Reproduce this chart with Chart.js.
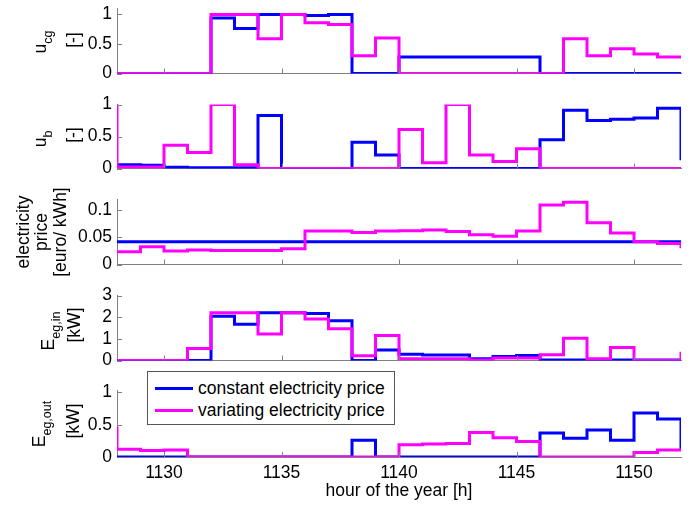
<!DOCTYPE html>
<html>
<head>
<meta charset="utf-8">
<title>Stairs comparison</title>
<script src="https://cdn.jsdelivr.net/npm/chart.js@4.4.1/dist/chart.umd.min.js"></script>
<style>
  body { margin: 0; background: #fff; }
  #wrap { position: relative; width: 691px; height: 505px; overflow: hidden;
          font-family: "Liberation Sans", Arial, sans-serif; color: #000; }
  #plots canvas { position: absolute; left: 0; }
  .ylab { position: absolute; white-space: nowrap; font-size: 17.5px; line-height: 17px;
          transform: translate(-50%, -50%) rotate(-90deg); }
  .ylab sub { font-size: 12.5px; vertical-align: baseline; position: relative; top: 6px; }
  #legend { position: absolute; left: 147px; top: 371px; width: 246px; height: 52px;
            border: 1px solid #555; background: #fff; font-size: 17.5px; }
  #legend .row { position: absolute; left: 7px; height: 20px; line-height: 20px; white-space: nowrap; }
  #legend .swatch { display: inline-block; width: 38px; height: 3px; vertical-align: middle;
                    margin-right: 5px; position: relative; top: -1px; }
</style>
</head>
<body>
<div id="wrap">
  <div id="plots"></div>

  <div class="ylab" style="left:41px; top:42px">u<sub>cg</sub></div>
  <div class="ylab" style="left:73px; top:40px">[-]</div>

  <div class="ylab" style="left:41px; top:139px">u<sub>b</sub></div>
  <div class="ylab" style="left:73px; top:135px">[-]</div>

  <div class="ylab" style="left:23px; top:232px">electricity</div>
  <div class="ylab" style="left:41px; top:232px">price</div>
  <div class="ylab" style="left:60px; top:232px">[euro/ kWh]</div>

  <div class="ylab" style="left:49px; top:331px">E<sub>eg,in</sub></div>
  <div class="ylab" style="left:74px; top:325px">[kW]</div>

  <div class="ylab" style="left:40px; top:424px">E<sub>eg,out</sub></div>
  <div class="ylab" style="left:73px; top:421px">[kW]</div>

  <div id="legend"></div>
</div>

<script>
// hour of the year; the first entry only carries the level coming in from the left edge
const hours = [1127, 1128, 1129, 1130, 1131, 1132, 1133, 1134, 1135, 1136, 1137, 1138, 1139,
               1140, 1141, 1142, 1143, 1144, 1145, 1146, 1147, 1148, 1149, 1150, 1151, 1152];
const xTicks = [1130, 1135, 1140, 1145, 1150];

const seriesNames = ['constant electricity price', 'variating electricity price'];
const seriesColors = ['#0000ff', '#ff00ff'];

// u_cg [-]
const ucgConst = [0, 0, 0, 0, 0, 0.94, 0.76, 1, 1, 0.98, 1, 0, 0,
                  0.28, 0.28, 0.28, 0.28, 0.28, 0.28, 0, 0, 0, 0, 0, 0, 0];
const ucgVar   = [0, 0, 0, 0, 0, 1, 1, 0.59, 1, 0.86, 0.83, 0.3, 0.6,
                  0, 0, 0, 0, 0, 0, 0, 0.59, 0.3, 0.42, 0.33, 0.28, 0.28];
const ucgTicks = [0, 0.5, 1];

// u_b [-]
const ubConst = [0.06, 0.06, 0.05, 0.02, 0.01, 0.01, 0.01, 0.83, 0, 0, 0, 0.41, 0.21,
                 0, 0, 0, 0, 0, 0, 0.45, 0.91, 0.75, 0.77, 0.79, 0.94, 0.13];
const ubVar   = [1, 0.025, 0.025, 0.365, 0.25, 1, 0.06, 0, 0, 0, 0, 0, 0,
                 0.61, 0.09, 1, 0.21, 0.11, 0.31, 0, 0, 0, 0, 0, 0, 0];
const ubTicks = [0, 0.5, 1];

// electricity price [euro/kWh]
const priceConst = [0.042, 0.042, 0.042, 0.042, 0.042, 0.042, 0.042, 0.042, 0.042, 0.042, 0.042, 0.042, 0.042,
                    0.042, 0.042, 0.042, 0.042, 0.042, 0.042, 0.042, 0.042, 0.042, 0.042, 0.042, 0.042, 0.042];
const priceVar   = [0.0235, 0.0235, 0.033, 0.025, 0.027, 0.026, 0.026, 0.026, 0.029, 0.062, 0.062, 0.059, 0.062,
                    0.0625, 0.0635, 0.061, 0.055, 0.052, 0.062, 0.11, 0.115, 0.077, 0.058, 0.042, 0.039, 0.03];
const priceTicks = [0, 0.05, 0.1];

// E_eg,in [kW]
const einConst = [0, 0, 0, 0, 0, 2.04, 1.67, 2.2, 2.2, 2.17, 1.84, 0, 0.48,
                  0.29, 0.25, 0.25, 0.08, 0.18, 0.23, 0.02, 0.02, 0.02, 0.02, 0.02, 0.02, 0.02];
const einVar   = [0, 0, 0, 0, 0.55, 2.2, 2.2, 1.22, 2.2, 1.91, 1.46, 0.22, 1.15,
                  0.08, 0.08, 0.08, 0.02, 0.12, 0.12, 0.27, 1.03, 0.08, 0.6, 0, 0, 0.4];
const einTicks = [0, 1, 2, 3];

// E_eg,out [kW]
const eoutConst = [0, 0, 0, 0, 0, 0, 0, 0, 0, 0, 0, 0.26, 0,
                   0, 0, 0, 0, 0, 0, 0.37, 0.29, 0.42, 0.26, 0.68, 0.59, 0.1];
const eoutVar   = [0.45, 0.12, 0.1, 0.11, 0, 0, 0, 0, 0, 0, 0, 0, 0,
                   0.19, 0.2, 0.21, 0.38, 0.3, 0.24, 0, 0, 0, 0, 0.07, 0.11, 0.11];
const eoutTicks = [0, 0.5, 1];

const AXIS = '#808080';
const W = 691, H = 505;
const PLOT_LEFT = 117, PLOT_RIGHT = 681;

const panels = [
  { top: 7,   bottom: 75,  max: 1.1,  ticks: ucgTicks,   series: [ucgConst, ucgVar] },
  { top: 103, bottom: 170, max: 1,    ticks: ubTicks,    series: [ubConst, ubVar] },
  { top: 198, bottom: 266, max: 0.12, ticks: priceTicks, series: [priceConst, priceVar] },
  { top: 294, bottom: 362, max: 3,    ticks: einTicks,   series: [einConst, einVar] },
  { top: 389, bottom: 457, max: 1.03, ticks: eoutTicks,  series: [eoutConst, eoutVar] }
];

Chart.defaults.font.family = '"Liberation Sans", Arial, sans-serif';
Chart.defaults.font.size = 17.5;
Chart.defaults.color = '#000';

// short tick marks pointing into the plot, like the original axes
const innerTicks = {
  id: 'innerTicks',
  afterDatasetsDraw(chart) {
    const { ctx, chartArea: a, scales: { x, y } } = chart;
    ctx.save();
    ctx.strokeStyle = AXIS;
    ctx.lineWidth = 1;
    ctx.beginPath();
    x.ticks.forEach(t => {
      const px = Math.round(x.getPixelForValue(t.value)) + 0.5;
      ctx.moveTo(px, a.bottom);
      ctx.lineTo(px, a.bottom - 5);
    });
    y.ticks.forEach(t => {
      const py = Math.round(y.getPixelForValue(t.value)) + 0.5;
      ctx.moveTo(a.left, py);
      ctx.lineTo(a.left + 5, py);
    });
    ctx.stroke();
    ctx.restore();
  }
};

function buildPanel(p, isLast) {
  const padTop = 14;
  const padBottom = isLast ? 0 : 14;
  const xHeight = isLast ? H - p.bottom : 0;

  const canvas = document.createElement('canvas');
  canvas.width = W;
  canvas.height = p.bottom - p.top + padTop + padBottom + xHeight;
  canvas.style.top = (p.top - padTop) + 'px';
  document.getElementById('plots').appendChild(canvas);

  const datasets = p.series.map((vals, k) => ({
    label: seriesNames[k],
    data: hours.map((h, i) => ({ x: h, y: vals[i] })),
    borderColor: seriesColors[k],
    borderWidth: 3,
    pointRadius: 0,
    stepped: 'before',
    fill: false,
    order: k === 0 ? 2 : 1
  }));

  new Chart(canvas.getContext('2d'), {
    type: 'line',
    data: { datasets },
    options: {
      responsive: false,
      animation: false,
      devicePixelRatio: 1,
      layout: { padding: { top: padTop, bottom: padBottom, left: 0, right: W - PLOT_RIGHT } },
      plugins: { legend: { display: false }, tooltip: { enabled: false } },
      scales: {
        x: {
          type: 'linear',
          min: 1128,
          max: 1152,
          afterBuildTicks: s => { s.ticks = xTicks.map(v => ({ value: v })); },
          afterFit: s => { s.height = xHeight; },
          grid: { drawOnChartArea: false, drawTicks: false, color: AXIS },
          border: { display: true, color: AXIS, width: 1 },
          ticks: { display: isLast, autoSkip: false, padding: 6, maxRotation: 0, callback: v => String(v) },
          title: {
            display: isLast,
            text: 'hour of the year [h]',
            padding: { top: 0, bottom: 3 }
          }
        },
        y: {
          type: 'linear',
          min: 0,
          max: p.max,
          afterBuildTicks: s => { s.ticks = p.ticks.map(v => ({ value: v })); },
          afterFit: s => { s.width = PLOT_LEFT; },
          grid: { drawOnChartArea: false, drawTicks: false, color: AXIS },
          border: { display: true, color: AXIS, width: 1 },
          ticks: { autoSkip: false, padding: 5, callback: v => String(v) }
        }
      }
    },
    plugins: [innerTicks]
  });
}

panels.forEach((p, i) => buildPanel(p, i === panels.length - 1));

// legend box inside the bottom panel
const legend = document.getElementById('legend');
seriesNames.forEach((name, k) => {
  const row = document.createElement('div');
  row.className = 'row';
  row.style.top = (6 + k * 22) + 'px';
  const sw = document.createElement('span');
  sw.className = 'swatch';
  sw.style.background = seriesColors[k];
  row.appendChild(sw);
  row.appendChild(document.createTextNode(name));
  legend.appendChild(row);
});
</script>
</body>
</html>
